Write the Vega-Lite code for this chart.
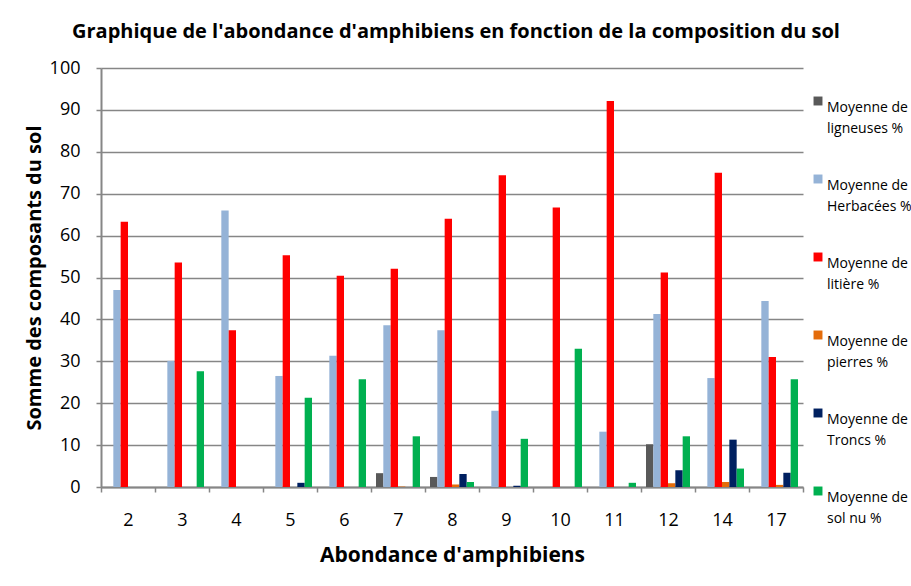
{
  "$schema": "https://vega.github.io/schema/vega-lite/v6.json",
  "width": 702,
  "height": 419,
  "autosize": {"type": "none"},
  "padding": {"left": 101, "top": 68, "right": 108, "bottom": 99},
  "background": "white",
  "title": {
    "text": "Graphique de l'abondance d'amphibiens en fonction de la composition du sol",
    "font": "Open Sans",
    "fontSize": 20,
    "fontWeight": "bold",
    "color": "#000000",
    "anchor": "middle",
    "dx": 4,
    "offset": 17
  },
  "data": {
    "values": [
      {"ab": "2", "c": "lign", "v": 0}, {"ab": "2", "c": "herb", "v": 47.0}, {"ab": "2", "c": "lit", "v": 63.3}, {"ab": "2", "c": "pier", "v": 0}, {"ab": "2", "c": "tronc", "v": 0}, {"ab": "2", "c": "sol", "v": 0},
      {"ab": "3", "c": "lign", "v": 0}, {"ab": "3", "c": "herb", "v": 30.1}, {"ab": "3", "c": "lit", "v": 53.6}, {"ab": "3", "c": "pier", "v": 0}, {"ab": "3", "c": "tronc", "v": 0}, {"ab": "3", "c": "sol", "v": 27.6},
      {"ab": "4", "c": "lign", "v": 0}, {"ab": "4", "c": "herb", "v": 66.0}, {"ab": "4", "c": "lit", "v": 37.4}, {"ab": "4", "c": "pier", "v": 0}, {"ab": "4", "c": "tronc", "v": 0}, {"ab": "4", "c": "sol", "v": 0},
      {"ab": "5", "c": "lign", "v": 0}, {"ab": "5", "c": "herb", "v": 26.5}, {"ab": "5", "c": "lit", "v": 55.3}, {"ab": "5", "c": "pier", "v": 0}, {"ab": "5", "c": "tronc", "v": 1.0}, {"ab": "5", "c": "sol", "v": 21.3},
      {"ab": "6", "c": "lign", "v": 0}, {"ab": "6", "c": "herb", "v": 31.3}, {"ab": "6", "c": "lit", "v": 50.4}, {"ab": "6", "c": "pier", "v": 0}, {"ab": "6", "c": "tronc", "v": 0}, {"ab": "6", "c": "sol", "v": 25.7},
      {"ab": "7", "c": "lign", "v": 3.3}, {"ab": "7", "c": "herb", "v": 38.6}, {"ab": "7", "c": "lit", "v": 52.1}, {"ab": "7", "c": "pier", "v": 0.1}, {"ab": "7", "c": "tronc", "v": 0}, {"ab": "7", "c": "sol", "v": 12.1},
      {"ab": "8", "c": "lign", "v": 2.4}, {"ab": "8", "c": "herb", "v": 37.4}, {"ab": "8", "c": "lit", "v": 64.0}, {"ab": "8", "c": "pier", "v": 0.6}, {"ab": "8", "c": "tronc", "v": 3.1}, {"ab": "8", "c": "sol", "v": 1.2},
      {"ab": "9", "c": "lign", "v": 0}, {"ab": "9", "c": "herb", "v": 18.2}, {"ab": "9", "c": "lit", "v": 74.4}, {"ab": "9", "c": "pier", "v": 0}, {"ab": "9", "c": "tronc", "v": 0.3}, {"ab": "9", "c": "sol", "v": 11.5},
      {"ab": "10", "c": "lign", "v": 0}, {"ab": "10", "c": "herb", "v": 0}, {"ab": "10", "c": "lit", "v": 66.7}, {"ab": "10", "c": "pier", "v": 0}, {"ab": "10", "c": "tronc", "v": 0}, {"ab": "10", "c": "sol", "v": 33.0},
      {"ab": "11", "c": "lign", "v": 0}, {"ab": "11", "c": "herb", "v": 13.2}, {"ab": "11", "c": "lit", "v": 92.1}, {"ab": "11", "c": "pier", "v": 0}, {"ab": "11", "c": "tronc", "v": 0}, {"ab": "11", "c": "sol", "v": 1.0},
      {"ab": "12", "c": "lign", "v": 10.2}, {"ab": "12", "c": "herb", "v": 41.3}, {"ab": "12", "c": "lit", "v": 51.2}, {"ab": "12", "c": "pier", "v": 0.9}, {"ab": "12", "c": "tronc", "v": 4.0}, {"ab": "12", "c": "sol", "v": 12.1},
      {"ab": "14", "c": "lign", "v": 0}, {"ab": "14", "c": "herb", "v": 26.0}, {"ab": "14", "c": "lit", "v": 75.0}, {"ab": "14", "c": "pier", "v": 1.2}, {"ab": "14", "c": "tronc", "v": 11.3}, {"ab": "14", "c": "sol", "v": 4.4},
      {"ab": "17", "c": "lign", "v": 0}, {"ab": "17", "c": "herb", "v": 44.4}, {"ab": "17", "c": "lit", "v": 31.0}, {"ab": "17", "c": "pier", "v": 0.5}, {"ab": "17", "c": "tronc", "v": 3.4}, {"ab": "17", "c": "sol", "v": 25.7}
    ]
  },
  "mark": {"type": "bar"},
  "encoding": {
    "x": {
      "field": "ab",
      "type": "ordinal",
      "sort": ["2", "3", "4", "5", "6", "7", "8", "9", "10", "11", "12", "14", "17"],
      "scale": {"paddingInner": 0, "paddingOuter": 0},
      "axis": {
        "title": "Abondance d'amphibiens",
        "titleFont": "Open Sans",
        "titleFontSize": 21,
        "titleFontWeight": "bold",
        "titleColor": "#000000",
        "titlePadding": 15,
        "labelFont": "Open Sans",
        "labelFontSize": 18,
        "labelColor": "#000000",
        "labelAngle": 0,
        "labelPadding": 19,
        "tickBand": "extent",
        "tickColor": "#868686",
        "tickSize": 5,
        "tickWidth": 1.5,
        "domainColor": "#868686",
        "domainWidth": 2,
        "grid": false
      }
    },
    "xOffset": {
      "field": "c",
      "type": "nominal",
      "sort": ["lign", "herb", "lit", "pier", "tronc", "sol"],
      "scale": {"paddingInner": 0, "paddingOuter": 0.68}
    },
    "y": {
      "field": "v",
      "type": "quantitative",
      "scale": {"domain": [0, 100], "nice": false},
      "axis": {
        "title": "Somme des composants du sol",
        "titleFont": "Open Sans",
        "titleFontSize": 20,
        "titleFontWeight": "bold",
        "titleColor": "#000000",
        "titlePadding": 5,
        "labelFont": "Open Sans",
        "labelFontSize": 18,
        "labelColor": "#000000",
        "labelPadding": 16,
        "values": [0, 10, 20, 30, 40, 50, 60, 70, 80, 90, 100],
        "tickColor": "#868686",
        "tickSize": 5,
        "tickWidth": 1.5,
        "domainColor": "#868686",
        "domainWidth": 2,
        "grid": true,
        "gridColor": "#868686",
        "gridWidth": 1.5
      }
    },
    "color": {
      "field": "c",
      "type": "nominal",
      "sort": ["lign", "herb", "lit", "pier", "tronc", "sol"],
      "scale": {
        "domain": ["lign", "herb", "lit", "pier", "tronc", "sol"],
        "range": ["#595959", "#95B3D7", "#FF0000", "#E46C0A", "#002060", "#00B050"]
      },
      "legend": {
        "title": null,
        "orient": "none",
        "legendX": 710,
        "legendY": 26,
        "labelExpr": "datum.value == 'lign' ? ['Moyenne de', 'ligneuses %'] : datum.value == 'herb' ? ['Moyenne de', 'Herbacées %'] : datum.value == 'lit' ? ['Moyenne de', 'litière %'] : datum.value == 'pier' ? ['Moyenne de', 'pierres %'] : datum.value == 'tronc' ? ['Moyenne de', 'Troncs %'] : ['Moyenne de', 'sol nu %']",
        "labelFont": "Open Sans",
        "labelFontSize": 14,
        "labelColor": "#000000",
        "labelBaseline": "top",
        "labelOffset": 2,
        "labelLimit": 200,
        "symbolType": "square",
        "symbolSize": 80,
        "symbolStrokeWidth": 0,
        "rowPadding": 36,
        "encode": {
          "labels": {"update": {"lineHeight": {"value": 21}}}
        }
      }
    }
  },
  "config": {
    "view": {"stroke": null},
    "axis": {"ticks": true}
  }
}
